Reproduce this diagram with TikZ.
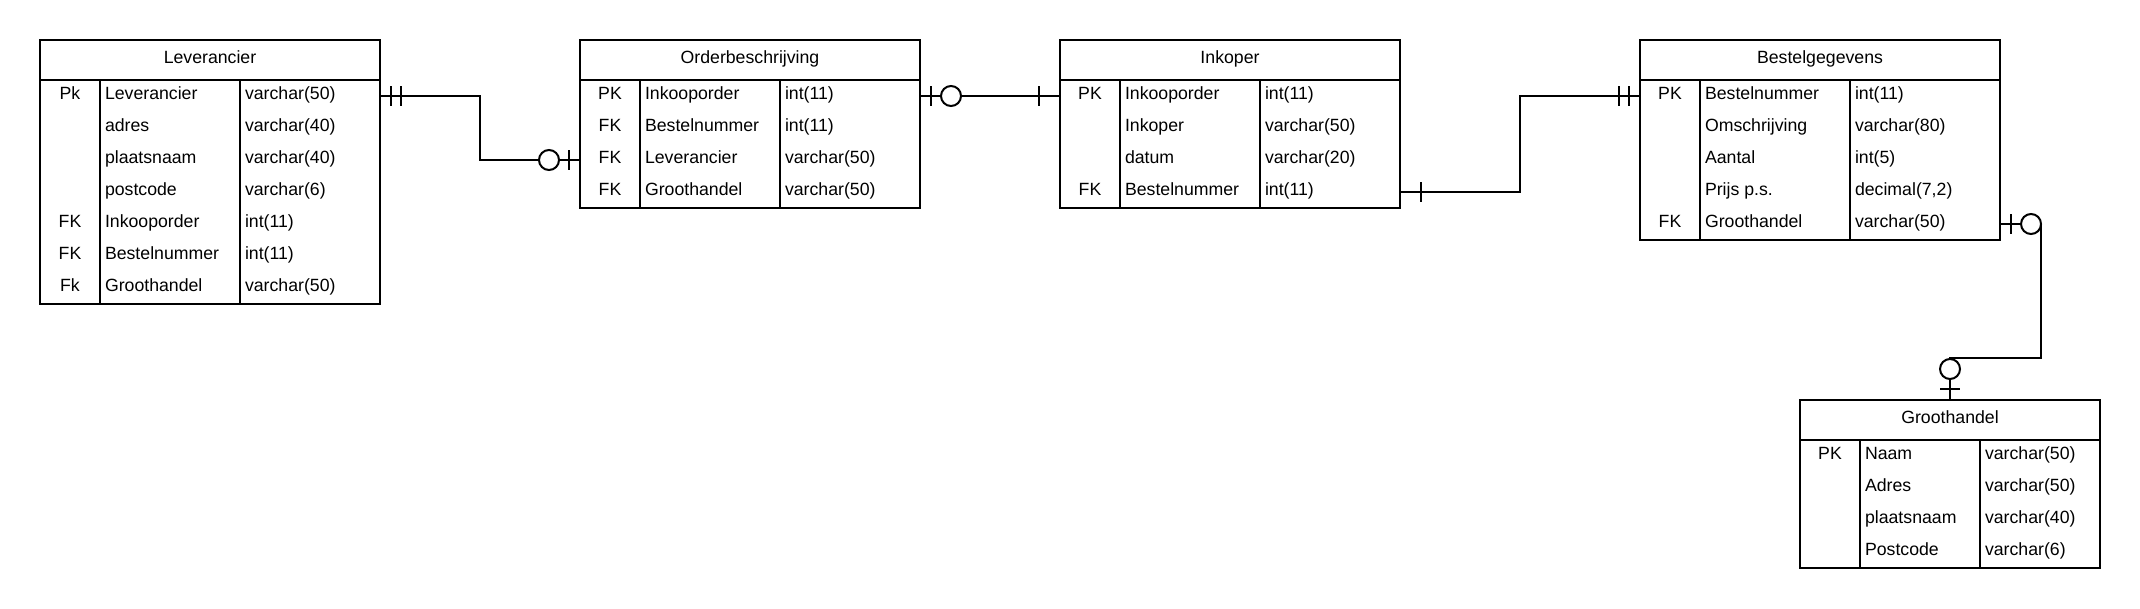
\documentclass[tikz,border=0pt]{standalone}
\usepackage{fontspec}
\setmainfont{Liberation Sans}
\usetikzlibrary{calc}
\tikzset{
  tbl/.style={draw=black, line width=2pt, fill=white, inner sep=0pt, outer sep=0pt, anchor=north west},
  tblline/.style={draw=black, line width=2pt},
  txt/.style={inner sep=0pt, outer sep=0pt, text=black},
  erline/.style={draw=black, line width=2pt},
  ering/.style={draw=black, line width=2pt, fill=white},
}
% #1 name, #2 left, #3 top, #4 col1, #5 col2, #6 right, #7 title, #8 rows, #9 number of rows
\newcommand{\ertable}[9]{%
  \node[tbl, minimum width={#6-#2}, minimum height={40+32*#9}] (#1) at (#2,#3) {};
  \draw[tblline] (#2,#3+40) -- (#6,#3+40);
  \draw[tblline] (#4,#3+40) -- (#4,{#3+40+32*#9});
  \draw[tblline] (#5,#3+40) -- (#5,{#3+40+32*#9});
  \node[txt, anchor=base] (#1-title) at ({(#2+#6)/2},{#3+23.5}) {#7};
  \foreach \kk/\nn/\ty [count=\i] in {#8} {
    \coordinate (#1-r\i) at ({(#2+#6)/2},{#3+40+32*\i-16});
    \node[txt, anchor=base] (#1-k\i) at ({(#2+#4)/2},{#3+40+32*\i-12.5}) {\kk};
    \node[txt, anchor=base west] (#1-n\i) at ({#4+5},{#3+40+32*\i-12.5}) {\nn};
    \node[txt, anchor=base west] (#1-t\i) at ({#5+5},{#3+40+32*\i-12.5}) {\ty};
  }
}
\begin{document}
\begin{tikzpicture}[x=1pt, y=-1pt, font=\fontsize{17.7}{21}\selectfont]
\fill[white] (0,0) rectangle (2140,608);
\useasboundingbox (0,0) rectangle (2140,608);

\ertable{lev}{40}{40}{100}{240}{380}{Leverancier}{Pk/Leverancier/varchar(50), {}/adres/varchar(40), {}/plaatsnaam/varchar(40), {}/postcode/varchar(6), FK/Inkooporder/int(11), FK/Bestelnummer/int(11), Fk/Groothandel/varchar(50)}{7}
\ertable{ord}{580}{40}{640}{780}{920}{Orderbeschrijving}{PK/Inkooporder/int(11), FK/Bestelnummer/int(11), FK/Leverancier/varchar(50), FK/Groothandel/varchar(50)}{4}
\ertable{ink}{1060}{40}{1120}{1260}{1400}{Inkoper}{PK/Inkooporder/int(11), {}/Inkoper/varchar(50), {}/datum/varchar(20), FK/Bestelnummer/int(11)}{4}
\ertable{bes}{1640}{40}{1700}{1850}{2000}{Bestelgegevens}{PK/Bestelnummer/int(11), {}/Omschrijving/varchar(80), {}/Aantal/int(5), {}/Prijs p.s./{decimal(7,2)}, FK/Groothandel/varchar(50)}{5}
\ertable{gro}{1800}{400}{1860}{1980}{2100}{Groothandel}{PK/Naam/varchar(50), {}/Adres/varchar(50), {}/plaatsnaam/varchar(40), {}/Postcode/varchar(6)}{4}

% Leverancier -> Orderbeschrijving
\draw[erline] (lev.east |- lev-r1) -- ++(100,0) |- (ord.west |- ord-r3);
\draw[erline] ($(lev.east |- lev-r1)+(11,-10)$) -- ++(0,20);
\draw[erline] ($(lev.east |- lev-r1)+(21,-10)$) -- ++(0,20);
\draw[erline] ($(ord.west |- ord-r3)+(-11,-10)$) -- ++(0,20);
\draw[ering] ($(ord.west |- ord-r3)+(-31,0)$) circle[radius=10];

% Orderbeschrijving -> Inkoper
\draw[erline] (ord.east |- ord-r1) -- (ink.west |- ink-r1);
\draw[erline] ($(ord.east |- ord-r1)+(11,-10)$) -- ++(0,20);
\draw[ering] ($(ord.east |- ord-r1)+(31,0)$) circle[radius=10];
\draw[erline] ($(ink.west |- ink-r1)+(-21,-10)$) -- ++(0,20);

% Inkoper -> Bestelgegevens
\draw[erline] (ink.east |- ink-r4) -- ++(120,0) |- (bes.west |- bes-r1);
\draw[erline] ($(ink.east |- ink-r4)+(21,-10)$) -- ++(0,20);
\draw[erline] ($(bes.west |- bes-r1)+(-11,-10)$) -- ++(0,20);
\draw[erline] ($(bes.west |- bes-r1)+(-21,-10)$) -- ++(0,20);

% Bestelgegevens -> Groothandel
\coordinate (bgc) at ($(bes.east |- bes-r5)+(41,0)$);
\coordinate (bgd) at ($(gro.north)+(0,-42)$);
\draw[erline] (bes.east |- bes-r5) -- (bgc) |- (bgd) -- (gro.north);
\draw[erline] ($(bes.east |- bes-r5)+(11,-10)$) -- ++(0,20);
\draw[ering] ($(bes.east |- bes-r5)+(31,0)$) circle[radius=10];
\draw[erline] ($(gro.north)+(-10,-11)$) -- ++(20,0);
\draw[ering] ($(gro.north)+(0,-31)$) circle[radius=10];
\end{tikzpicture}
\end{document}
